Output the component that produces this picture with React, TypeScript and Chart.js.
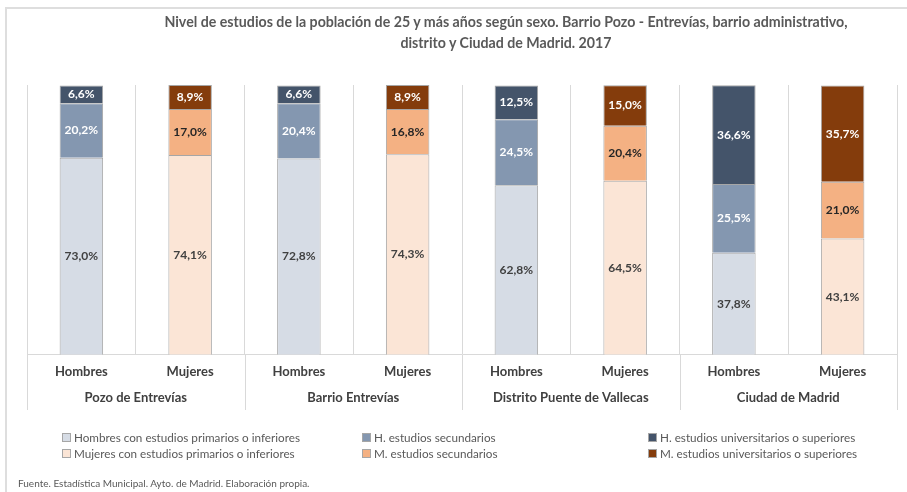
import React, { useEffect, useRef } from 'react';
import { Chart, registerables } from 'chart.js';
Chart.register(...registerables);

const groups = ['Pozo de Entrevías', 'Barrio Entrevías', 'Distrito Puente de Vallecas', 'Ciudad de Madrid'];
const sexes = ['Hombres', 'Mujeres'];
const seriesNames = [
  'Hombres con estudios primarios o inferiores',
  'H. estudios secundarios',
  'H. estudios universitarios o superiores',
  'Mujeres con estudios primarios o inferiores',
  'M. estudios secundarios',
  'M. estudios universitarios o superiores',
];
const hPrimarios = [73.0, 72.8, 62.8, 37.8];
const hSecundarios = [20.2, 20.4, 24.5, 25.5];
const hUniversitarios = [6.6, 6.6, 12.5, 36.6];
const mPrimarios = [74.1, 74.3, 64.5, 43.1];
const mSecundarios = [17.0, 16.8, 20.4, 21.0];
const mUniversitarios = [8.9, 8.9, 15.0, 35.7];

const fillColors = ['#d6dce5', '#8497b0', '#44546a', '#fbe5d6', '#f4b183', '#843c0c'];
const labelColors = ['#404040', '#ffffff', '#ffffff', '#404040', '#262626', '#ffffff'];
const FONT = 'Lato, "Open Sans", sans-serif';

const barLabelsPlugin = {
  id: 'barLabels',
  afterDatasetsDraw(chart: any) {
    const ctx = chart.ctx;
    ctx.save();
    ctx.font = `bold 12px ${FONT}`;
    ctx.textAlign = 'center';
    ctx.textBaseline = 'middle';
    chart.data.datasets.forEach((ds: any, di: number) => {
      const meta = chart.getDatasetMeta(di);
      meta.data.forEach((el: any, i: number) => {
        const v = ds.data[i];
        if (v === null || v === undefined) return;
        const { x, y, base } = el.getProps(['x', 'y', 'base'], true);
        ctx.fillStyle = labelColors[di];
        ctx.fillText(v.toFixed(1).replace('.', ',') + '%', x, (y + base) / 2);
      });
    });
    ctx.restore();
  },
};

const groupSepPlugin = {
  id: 'groupSep',
  afterDraw(chart: any) {
    const x = chart.scales.x;
    const x2 = chart.scales.x2;
    const ctx = chart.ctx;
    ctx.save();
    ctx.strokeStyle = '#d9d9d9';
    ctx.lineWidth = 1;
    for (let b = 0; b <= groups.length * sexes.length; b += sexes.length) {
      const px = Math.round(x.getPixelForValue(b - 0.5)) + 0.5;
      ctx.beginPath();
      ctx.moveTo(px, chart.chartArea.bottom);
      ctx.lineTo(px, x2.bottom + 2);
      ctx.stroke();
    }
    ctx.restore();
  },
};

export default function App() {
  const canvasRef = useRef<HTMLCanvasElement>(null);

  useEffect(() => {
    document.body.style.margin = '0';
    const labels = groups.flatMap(() => sexes);
    const men = (arr: number[]) => arr.flatMap((v) => [v, null]);
    const women = (arr: number[]) => arr.flatMap((v) => [null, v]);
    const series = [
      men(hPrimarios), men(hSecundarios), men(hUniversitarios),
      women(mPrimarios), women(mSecundarios), women(mUniversitarios),
    ];
    const chart = new Chart(canvasRef.current!, {
      type: 'bar',
      data: {
        labels,
        datasets: series.map((data, i) => ({
          label: seriesNames[i],
          data,
          backgroundColor: fillColors[i],
          borderColor: '#a6a6a6',
          borderWidth: 1,
          barPercentage: 0.4,
          categoryPercentage: 1,
        })),
      },
      options: {
        responsive: false,
        animation: false,
        layout: { padding: { left: 27, right: 10, top: 85, bottom: 84 } },
        plugins: {
          legend: { display: false },
          title: { display: false },
          tooltip: { enabled: false },
        },
        scales: {
          y: { display: false, stacked: true, min: 0, max: 100 },
          x: {
            stacked: true,
            offset: true,
            grid: { offset: true, color: '#d9d9d9', drawTicks: false },
            border: { display: true, color: '#d9d9d9' },
            ticks: { font: { family: FONT, size: 13, weight: 'bold' }, color: '#404040', padding: 9, maxRotation: 0, autoSkip: false },
          },
          x2: {
            type: 'category',
            labels: groups,
            position: 'bottom',
            offset: true,
            weight: 1,
            grid: { display: false, drawTicks: false },
            border: { display: false },
            ticks: { font: { family: FONT, size: 13, weight: 'bold' }, color: '#404040', padding: 2, maxRotation: 0, autoSkip: false },
          },
        },
      } as any,
      plugins: [barLabelsPlugin, groupSepPlugin],
    });
    return () => chart.destroy();
  }, []);

  const legendCols = [62, 362, 648];
  const legendRows = [430, 446];

  return (
    <div style={{ position: 'relative', width: 907, height: 492, background: '#fff', overflow: 'hidden', fontFamily: FONT }}>
      <div style={{ position: 'absolute', left: 5, top: 7, right: 0, bottom: 0, borderTop: '2px solid #dedede', borderLeft: '2px solid #dedede' }} />
      <canvas ref={canvasRef} width={907} height={492} style={{ position: 'absolute', left: 0, top: 0 }} />
      <div style={{ position: 'absolute', left: 106, width: 800, top: 11, textAlign: 'center', fontWeight: 'bold', fontSize: 14.2, lineHeight: '21px', color: '#595959', whiteSpace: 'nowrap' }}>
        Nivel de estudios de la población de 25 y más años según sexo. Barrio Pozo - Entrevías, barrio administrativo,<br />
        distrito y Ciudad de Madrid. 2017
      </div>
      {seriesNames.map((name, i) => {
        const col = i % 3;
        const row = Math.floor(i / 3);
        return (
          <div key={name} style={{ position: 'absolute', left: legendCols[col], top: legendRows[row], height: 14, display: 'flex', alignItems: 'center', fontSize: 11.7, color: '#595959', whiteSpace: 'nowrap' }}>
            <span style={{ display: 'inline-block', width: 7, height: 7, background: fillColors[i], border: '1px solid #a6a6a6', marginRight: 3 }} />
            {name}
          </div>
        );
      })}
      <div style={{ position: 'absolute', left: 18, top: 477, fontSize: 10, color: '#595959', whiteSpace: 'nowrap' }}>
        Fuente. Estadística Municipal. Ayto. de Madrid. Elaboración propia.
      </div>
    </div>
  );
}
